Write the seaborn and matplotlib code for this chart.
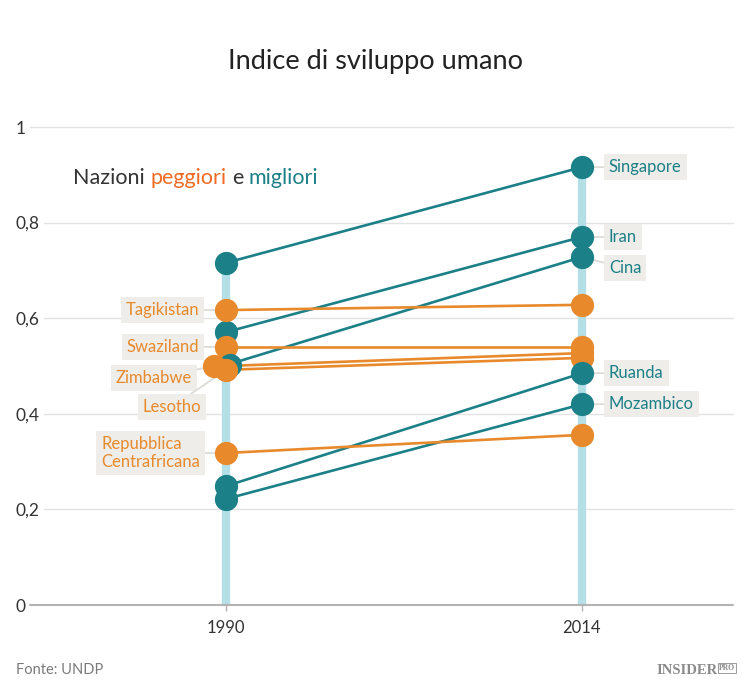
"""
Indice di sviluppo umano: nazioni peggiori e migliori, 1990 vs 2014 (fonte UNDP).
Slope chart con seaborn, salvato in out.png.
"""

import matplotlib
matplotlib.use("Agg")
import matplotlib.pyplot as plt
import matplotlib.transforms as mtransforms
import pandas as pd
import seaborn as sns

# --- dati ---
countries = ["Singapore", "Iran", "Tagikistan", "Swaziland", "Cina",
             "Zimbabwe", "Lesotho", "Ruanda", "Mozambico",
             "Repubblica\nCentrafricana"]
groups = ["migliori", "migliori", "peggiori", "peggiori", "migliori",
          "peggiori", "peggiori", "migliori", "migliori", "peggiori"]
hdi_1990 = [0.716, 0.571, 0.617, 0.540, 0.502, 0.500, 0.492, 0.249, 0.222, 0.318]
hdi_2014 = [0.916, 0.770, 0.628, 0.540, 0.728, 0.527, 0.517, 0.485, 0.420, 0.356]
years = [1990, 2014]
y_ticks = [0, 0.2, 0.4, 0.6, 0.8, 1]
y_ticklabels = ["0", "0,2", "0,4", "0,6", "0,8", "1"]

# --- stile ---
TEAL = "#1b8087"
ORANGE = "#e8892b"
SUB_ORANGE = "#f26a21"
BAR = "#b5dfe6"
BOX = "#eeede9"
DARK = "#333333"
palette = {"migliori": TEAL, "peggiori": ORANGE}

# spostamento orizzontale (px) dei pallini sovrapposti nel 1990
dodge_1990 = {"Zimbabwe": -12, "Cina": 4}
# posizione delle etichette (offset in px dal pallino)
label_offset = {
    "Tagikistan": (-27, 0), "Swaziland": (-27, 0), "Zimbabwe": (-22, -12),
    "Lesotho": (-25, -37), "Repubblica\nCentrafricana": (-26, 0),
    "Singapore": (27, 0), "Iran": (27, 0), "Cina": (27, -11),
    "Ruanda": (27, 0), "Mozambico": (27, 0),
}

rows = []
for c, g, a, b in zip(countries, groups, hdi_1990, hdi_2014):
    rows.append({"country": c, "group": g, "year": years[0], "hdi": a})
    rows.append({"country": c, "group": g, "year": years[1], "hdi": b})
df = pd.DataFrame(rows)

sns.set_theme(style="white")
plt.rcParams["font.family"] = ["Lato", "DejaVu Sans"]

W, H = 750, 696
AX_L, AX_R, AX_T, AX_B = 47, 733, 127, 605
fig = plt.figure(figsize=(W / 100, H / 100), dpi=100)
ax = fig.add_axes([AX_L / W, 1 - AX_B / H, (AX_R - AX_L) / W, (AX_B - AX_T) / H])


def px(dx, dy=0):
    return mtransforms.ScaledTranslation(dx / 100, dy / 100, fig.dpi_scale_trans)


# colonne azzurre
tops = df.groupby("year")["hdi"].max()
ax.vlines(tops.index, 0, tops.values, color=BAR, lw=6, zorder=1)

# linee
sns.lineplot(data=df, x="year", y="hdi", units="country", hue="group",
             estimator=None, palette=palette, lw=1.9, legend=False,
             ax=ax, zorder=3)

# pallini, uno stato alla volta per rispettare le sovrapposizioni
for c in countries:
    for yr in years:
        sub = df[(df["country"] == c) & (df["year"] == yr)]
        dx = dodge_1990.get(c, 0) if yr == years[0] else 0
        sns.scatterplot(data=sub, x="year", y="hdi", hue="group",
                        palette=palette, s=280, linewidth=0, legend=False,
                        ax=ax, zorder=4, transform=ax.transData + px(dx))

# etichette
for c, g, a, b in zip(countries, groups, hdi_1990, hdi_2014):
    if g == "peggiori":
        xy, val, ha, col = years[0], a, "right", ORANGE
        trans = ax.transData + px(dodge_1990.get(c, 0))
    else:
        xy, val, ha, col = years[1], b, "left", TEAL
        trans = ax.transData
    ax.annotate(c, xy=(xy, val), xycoords=trans,
                xytext=label_offset[c], textcoords="offset pixels",
                ha=ha, va="center", multialignment="left", color=col,
                fontsize=12, linespacing=1.1,
                bbox=dict(boxstyle="square,pad=0.3", fc=BOX, ec="none"),
                arrowprops=dict(arrowstyle="-", color="#dcdbd5", lw=1.3,
                                shrinkA=0, shrinkB=0),
                zorder=2)

# assi
ax.set_xlim(1977.9, 2024.2)
ax.set_ylim(0, 1)
ax.set_xticks(years)
ax.set_xticklabels([str(y) for y in years])
ax.set_yticks(y_ticks)
ax.set_yticklabels(y_ticklabels)
ax.set_xlabel("")
ax.set_ylabel("")
for s in ax.spines.values():
    s.set_visible(False)
ax.grid(False)
ax.tick_params(axis="y", length=0, pad=(AX_L - 16) * 0.72, labelsize=12.5,
               labelcolor=DARK)
for lab in ax.get_yticklabels():
    lab.set_ha("left")
ax.tick_params(axis="x", bottom=True, length=4, width=1, color="#b3b3b3",
               pad=7, labelsize=12, labelcolor=DARK)

# griglia che parte subito dopo l'etichetta
fig.canvas.draw()
renderer = fig.canvas.get_renderer()
for val, lab in zip(y_ticks, ax.get_yticklabels()):
    x1 = lab.get_window_extent(renderer).x1 + 4
    frac = (x1 - AX_L) / (AX_R - AX_L)
    if val == 0:
        ax.axhline(val, xmin=frac, xmax=1, color="#b3b3b3", lw=1.5,
                   zorder=1.5, clip_on=False)
    else:
        ax.axhline(val, xmin=frac, xmax=1, color="#e3e3e3", lw=1,
                   zorder=0.5, clip_on=False)

# titolo
fig.text(0.5, 1 - 62 / H, "Indice di sviluppo umano", ha="center", va="center",
         fontsize=19.5, color="#222222")

# sottotitolo a più colori
pieces = [("Nazioni", DARK), ("peggiori", SUB_ORANGE), ("e", DARK),
          ("migliori", TEAL)]
SUB_SIZE = 15.5
x0 = 73
prefix = ""
for word, col in pieces:
    probe = fig.text(0, 0, prefix + "x", fontsize=SUB_SIZE)
    xw = fig.text(0, 0, "x", fontsize=SUB_SIZE)
    offset = (probe.get_window_extent(renderer).width
              - xw.get_window_extent(renderer).width) if prefix else 0
    probe.remove()
    xw.remove()
    fig.text((x0 + offset) / W, 1 - 178 / H, word, ha="left", va="center",
             fontsize=SUB_SIZE, color=col)
    prefix += word + " "

# piè di pagina
fig.text(16 / W, 1 - 670 / H, "Fonte: UNDP", ha="left", va="center",
         fontsize=10.5, color="#7a7a7a")
fig.text(735 / W, 1 - 668 / H, "PRO", ha="right", va="center",
         fontsize=5.5, color="#8a8a8a", family="Liberation Serif",
         weight="bold",
         bbox=dict(boxstyle="square,pad=0.15", fc="none", ec="#8a8a8a", lw=0.6))
fig.text(718 / W, 1 - 670 / H, "INSIDER", ha="right", va="center",
         fontsize=10.5, color="#8a8a8a", family="Liberation Serif",
         weight="bold")

fig.savefig("out.png", dpi=100)
plt.close(fig)
